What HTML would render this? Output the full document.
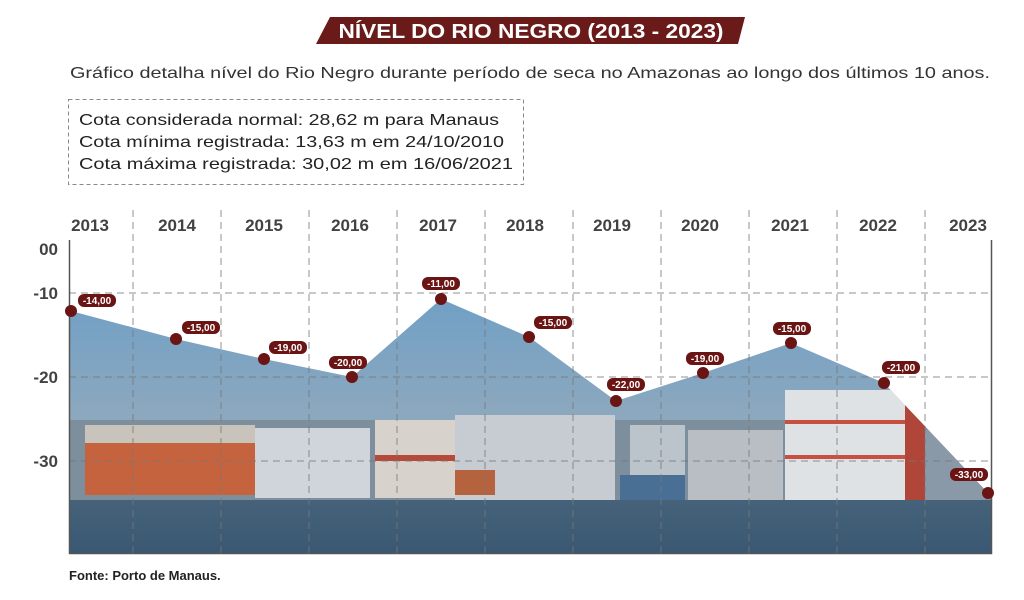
<!DOCTYPE html><html><head><meta charset="utf-8"><style>
body{margin:0;background:#fff;width:1024px;height:595px;overflow:hidden;font-family:"Liberation Sans",sans-serif}
</style></head><body>
<svg width="1024" height="595" viewBox="0 0 1024 595" xmlns="http://www.w3.org/2000/svg" font-family="Liberation Sans, sans-serif">
<defs>
<linearGradient id="sky" x1="0" y1="0" x2="0" y2="1">
<stop offset="0" stop-color="#6f9fc6"/><stop offset="1" stop-color="#8fa9bd"/></linearGradient>
<linearGradient id="wat" x1="0" y1="0" x2="0" y2="1">
<stop offset="0" stop-color="#46627a"/><stop offset="1" stop-color="#3a5873"/></linearGradient>
<clipPath id="cp"><polygon points="71,311 176,339 264,359 352,377 441,299 529,337 616,401 703,373 791,343 884,383 988,493 991,493 991,553 69,553 69,311"/></clipPath>
</defs>
<path d="M316,44 L330,17 L745,17 L738,44 Z" fill="#6b1a1a"/>
<text x="531" y="38" text-anchor="middle" font-size="20" font-weight="bold" fill="#fff" textLength="385" lengthAdjust="spacingAndGlyphs">NÍVEL DO RIO NEGRO (2013 - 2023)</text>
<text x="70" y="78" font-size="16" fill="#333" textLength="920" lengthAdjust="spacingAndGlyphs">Gráfico detalha nível do Rio Negro durante período de seca no Amazonas ao longo dos últimos 10 anos.</text>
<rect x="68.5" y="99.5" width="455" height="85" fill="none" stroke="#888" stroke-dasharray="4,3"/>
<g font-size="16" fill="#222"><text x="79" y="125" textLength="420" lengthAdjust="spacingAndGlyphs">Cota considerada normal: 28,62 m para Manaus</text><text x="79" y="147" textLength="425" lengthAdjust="spacingAndGlyphs">Cota mínima registrada: 13,63 m em 24/10/2010</text><text x="79" y="169" textLength="434" lengthAdjust="spacingAndGlyphs">Cota máxima registrada: 30,02 m em 16/06/2021</text></g>
<g font-size="17" fill="#222" text-anchor="middle" font-weight="bold" opacity="0.85">
<text x="90" y="231">2013</text><text x="177" y="231">2014</text><text x="264" y="231">2015</text><text x="350" y="231">2016</text><text x="438" y="231">2017</text><text x="525" y="231">2018</text><text x="612" y="231">2019</text><text x="700" y="231">2020</text><text x="790" y="231">2021</text><text x="878" y="231">2022</text><text x="968" y="231">2023</text></g>
<g font-size="17" fill="#222" text-anchor="end" font-weight="bold" opacity="0.85"><text x="58" y="255">00</text><text x="58" y="299">-10</text><text x="58" y="383">-20</text><text x="58" y="467">-30</text></g>
<g clip-path="url(#cp)">
<rect x="69" y="290" width="922" height="140" fill="url(#sky)"/>
<rect x="69" y="420" width="922" height="85" fill="#7d8e9d"/>
<rect x="85" y="425" width="170" height="70" fill="#c4633d"/>
<rect x="85" y="425" width="170" height="18" fill="#c8c4bc"/>
<rect x="255" y="428" width="115" height="70" fill="#cfd5da"/>
<rect x="375" y="420" width="80" height="78" fill="#d8d2cc"/><rect x="375" y="455" width="80" height="6" fill="#b54a3a"/>
<rect x="455" y="415" width="160" height="85" fill="#c6ccd2"/><rect x="455" y="470" width="40" height="25" fill="#b5623e"/>
<rect x="630" y="425" width="55" height="75" fill="#bcc4cb"/><rect x="620" y="475" width="65" height="25" fill="#4a6f95"/>
<rect x="688" y="430" width="95" height="75" fill="#b8bec3"/>
<rect x="785" y="390" width="125" height="120" fill="#dfe2e5"/><rect x="785" y="420" width="125" height="4" fill="#c85040"/><rect x="785" y="455" width="125" height="4" fill="#c85040"/>
<rect x="905" y="400" width="20" height="110" fill="#b0453a"/><rect x="925" y="430" width="60" height="80" fill="#8a99a7"/>
<rect x="69" y="500" width="922" height="53" fill="url(#wat)"/>
</g>
<g stroke="#777" stroke-dasharray="7,5" stroke-width="1" opacity="0.8">
<line x1="133" y1="210" x2="133" y2="553"/><line x1="221" y1="210" x2="221" y2="553"/><line x1="309" y1="210" x2="309" y2="553"/><line x1="397" y1="210" x2="397" y2="553"/><line x1="485" y1="210" x2="485" y2="553"/><line x1="573" y1="210" x2="573" y2="553"/><line x1="661" y1="210" x2="661" y2="553"/><line x1="749" y1="210" x2="749" y2="553"/><line x1="837" y1="210" x2="837" y2="553"/><line x1="925" y1="210" x2="925" y2="553"/>
<line x1="69" y1="293" x2="991" y2="293"/><line x1="69" y1="377" x2="991" y2="377"/><line x1="69" y1="461" x2="991" y2="461"/></g>
<path d="M69.5,240 V553.5 H991.5 V240" fill="none" stroke="#555" stroke-width="1.5"/>
<g fill="#6b1414">
<circle cx="71" cy="311" r="6"/><circle cx="176" cy="339" r="6"/><circle cx="264" cy="359" r="6"/><circle cx="352" cy="377" r="6"/><circle cx="441" cy="299" r="6"/><circle cx="529" cy="337" r="6"/><circle cx="616" cy="401" r="6"/><circle cx="703" cy="373" r="6"/><circle cx="791" cy="343" r="6"/><circle cx="884" cy="383" r="6"/><circle cx="988" cy="493" r="6"/>
<rect x="78" y="294" width="38" height="13" rx="6"/><rect x="182" y="321" width="38" height="13" rx="6"/><rect x="269" y="341" width="38" height="13" rx="6"/><rect x="329" y="356" width="38" height="13" rx="6"/><rect x="422" y="277" width="38" height="13" rx="6"/><rect x="534" y="316" width="38" height="13" rx="6"/><rect x="607" y="378" width="38" height="13" rx="6"/><rect x="686" y="352" width="38" height="13" rx="6"/><rect x="773" y="322" width="38" height="13" rx="6"/><rect x="882" y="361" width="38" height="13" rx="6"/><rect x="950" y="468" width="38" height="13" rx="6"/></g>
<g fill="#fff" font-size="10" font-weight="bold" text-anchor="middle">
<text x="97" y="304">-14,00</text><text x="201" y="331">-15,00</text><text x="288" y="351">-19,00</text><text x="348" y="366">-20,00</text><text x="441" y="287">-11,00</text><text x="553" y="326">-15,00</text><text x="626" y="388">-22,00</text><text x="705" y="362">-19,00</text><text x="792" y="332">-15,00</text><text x="901" y="371">-21,00</text><text x="969" y="478">-33,00</text></g>
<text x="69" y="580" font-size="13" font-weight="bold" fill="#222">Fonte: Porto de Manaus.</text>
</svg></body></html>
